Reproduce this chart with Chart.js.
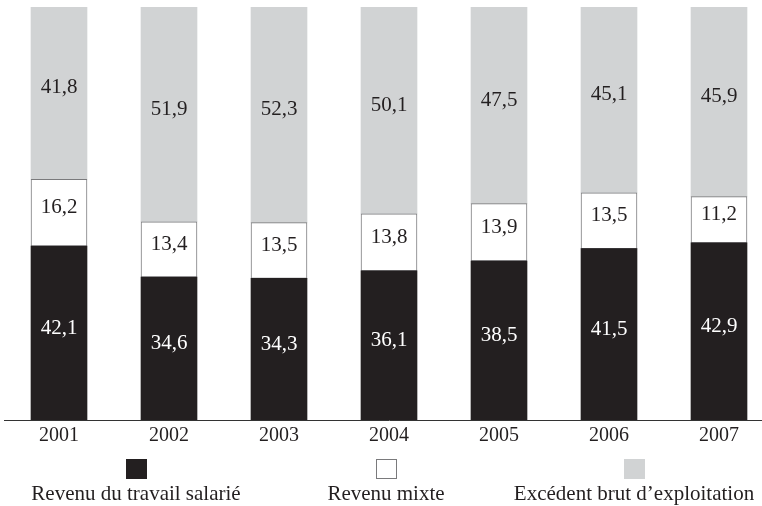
<!DOCTYPE html>
<html lang="fr">

<head>
    <title>Partage de la valeur ajoutée</title>
    <meta charset="utf-8" />
    <script src="https://cdn.jsdelivr.net/npm/chart.js"></script>
    <style>
        html, body { margin: 0; padding: 0; overflow: hidden; background: #fff; }
        canvas { display: block; }
    </style>
</head>

<body>
    <canvas id="miGrafico" width="774" height="506"></canvas>

    <script>
        // données
        const annees = ['2001', '2002', '2003', '2004', '2005', '2006', '2007'];
        const travailSalarie = [42.1, 34.6, 34.3, 36.1, 38.5, 41.5, 42.9];
        const revenuMixte = [16.2, 13.4, 13.5, 13.8, 13.9, 13.5, 11.2];
        const excedentBrut = [41.8, 51.9, 52.3, 50.1, 47.5, 45.1, 45.9];
        const nomsSeries = ['Revenu du travail salarié', 'Revenu mixte', 'Excédent brut d\u2019exploitation'];

        const police = '"Liberation Serif", "Times New Roman", serif';
        const noir = '#231f20';
        const gris = '#d1d3d4';

        function formatFr(v) {
            return v.toFixed(1).replace('.', ',');
        }

        // étiquettes de valeur au centre de chaque segment
        const etiquettes = {
            id: 'etiquettes',
            afterDatasetsDraw(chart) {
                const ctx = chart.ctx;
                ctx.save();
                ctx.font = '21px ' + police;
                ctx.textAlign = 'center';
                ctx.textBaseline = 'middle';
                chart.data.datasets.forEach((ds, i) => {
                    const meta = chart.getDatasetMeta(i);
                    meta.data.forEach((bar, j) => {
                        const p = bar.getProps(['x', 'y', 'base'], true);
                        ctx.fillStyle = i === 0 ? '#fff' : noir;
                        ctx.fillText(formatFr(ds.data[j]), p.x, (p.y + p.base) / 2 - 5);
                    });
                });
                ctx.restore();
            }
        };

        // légende : carré au-dessus du texte
        const legende = {
            id: 'legende',
            afterDraw(chart) {
                const ctx = chart.ctx;
                const centres = [136, 386, 634];
                ctx.save();
                ctx.font = '21px ' + police;
                ctx.textAlign = 'center';
                ctx.textBaseline = 'alphabetic';
                chart.data.datasets.forEach((ds, i) => {
                    const cx = centres[i];
                    ctx.fillStyle = ds.backgroundColor;
                    ctx.fillRect(cx - 10, 459, 21, 20);
                    if (ds.borderWidth) {
                        ctx.strokeStyle = ds.borderColor;
                        ctx.lineWidth = 1;
                        ctx.strokeRect(cx - 9.5, 459.5, 20, 19);
                    }
                    ctx.fillStyle = noir;
                    ctx.fillText(ds.label, cx, 500);
                });
                ctx.restore();
            }
        };

        const ctx = document.querySelector('#miGrafico').getContext('2d');
        const miGrafico = new Chart(ctx, {
            type: 'bar',
            data: {
                labels: annees,
                datasets: [{
                    label: nomsSeries[0],
                    data: travailSalarie,
                    backgroundColor: noir,
                    borderWidth: 0
                }, {
                    label: nomsSeries[1],
                    data: revenuMixte,
                    backgroundColor: '#ffffff',
                    borderColor: '#7a7a7c',
                    borderWidth: 1,
                    borderSkipped: false
                }, {
                    label: nomsSeries[2],
                    data: excedentBrut,
                    backgroundColor: gris,
                    borderWidth: 0
                }]
            },
            options: {
                responsive: false,
                animation: false,
                layout: { padding: { left: 4, right: 0, top: 7, bottom: 54 } },
                barThickness: 56,
                plugins: {
                    legend: { display: false },
                    tooltip: { enabled: false }
                },
                scales: {
                    x: {
                        stacked: true,
                        grid: { display: false, drawTicks: false },
                        border: { display: true, color: '#333', width: 1 },
                        ticks: {
                            color: noir,
                            padding: 4,
                            font: { family: police, size: 20 }
                        }
                    },
                    y: {
                        stacked: true,
                        display: false,
                        min: 0,
                        max: 100
                    }
                }
            },
            plugins: [etiquettes, legende]
        });
    </script>
</body>

</html>
